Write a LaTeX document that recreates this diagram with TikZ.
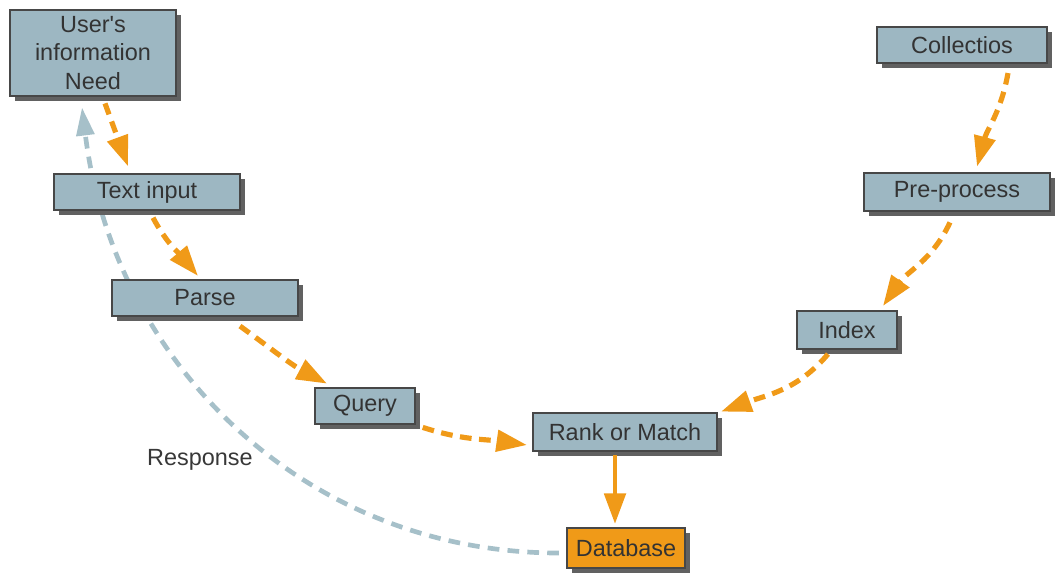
\documentclass[tikz,border=0pt]{standalone}
\usepackage{fontspec}
\setmainfont{Liberation Sans}
\usetikzlibrary{arrows.meta,calc,shadows}
\pgfdeclarelayer{back}\pgfsetlayers{back,main}
\definecolor{boxblue}{HTML}{9DB7C2}
\definecolor{flow}{HTML}{F09A18}
\definecolor{resp}{HTML}{A6C0C9}
\tikzset{stage/.style={draw=black!72,line width=.9pt,fill=boxblue,text=black!80,inner sep=1pt,drop shadow={shadow xshift=2.2pt,shadow yshift=-2.2pt,fill=black!62,opacity=1}},
flowarr/.style={flow,line width=2.2pt,dash pattern=on 5pt off 3.2pt,-{Triangle[length=13pt,width=9pt]}},
resparr/.style={resp,line width=2pt,dash pattern=on 5pt off 3.5pt,-{Triangle[length=12pt,width=7.5pt]}}}

\begin{document}
\begin{tikzpicture}[x=.015cm,y=-.015cm]
\useasboundingbox(0,0)rectangle(1060,575);
% left branch
\node[stage,minimum width=2.5cm,minimum height=1.3cm,align=center](user)at(93,53){User\textquotesingle s\\information\\Need};
\node[stage,minimum width=2.8cm,minimum height=.53cm](txt)at(147,192){Text input};
\node[stage,minimum width=2.8cm,minimum height=.54cm](prs)at(205,298){Parse};
\node[stage,minimum width=1.49cm,minimum height=.55cm](qry)at(365,406){Query};
% right branch
\node[stage,minimum width=2.55cm,minimum height=.54cm](coll)at(962,45){Collectios};
\node[stage,minimum width=2.79cm,minimum height=.58cm](pre)at(957,192){Pre-process};
\node[stage,minimum width=1.49cm,minimum height=.57cm](idx)at(847,330){Index};
% bottom
\node[stage,minimum width=2.76cm,minimum height=.58cm](rank)at(625,432){Rank or Match};
\node[stage,fill=flow,minimum width=1.77cm,minimum height=.6cm](db)at(626,548){Database};
\node[text=black!78](resplbl)at(200,460){Response};
\draw[flowarr]($(user.south)+(12,6)$)--($(txt.north)+(-19,-7)$);
\draw[flowarr]($(txt.south)+(6,7)$)to[out=-62,in=130]($(prs.north)+(-7,-3)$);
\draw[flowarr]($(prs.south)+(35,9)$)to[out=-36,in=152]($(qry.north)+(-38,-3)$);
\draw[flowarr]($(qry.south east)+(7,2)$)to[out=-18,in=172]($(rank.west)+(-5,13)$);
\draw[flowarr]($(coll.south)+(46,9)$)to[out=-100,in=75]($(pre.north)+(20,-5)$);
\draw[flowarr]($(pre.south)+(-7,10)$)to[out=-115,in=55]($(idx.north)+(36,-4)$);
\draw[flowarr]($(idx.south)+(-19,4)$)to[out=-130,in=20]($(rank.north east)+(3,0)$);
\draw[flow,line width=2pt,-{Triangle[length=13pt,width=9pt]}]($(rank.south)+(-10,3)$)--($(db.north)+(-11,-3)$);
\begin{pgfonlayer}{back}
\draw[resparr]($(db.west)+(-7,5)$)to[out=180,in=-83]($(user.south)+(-11,10)$);
\end{pgfonlayer}
\end{tikzpicture}
\end{document}
